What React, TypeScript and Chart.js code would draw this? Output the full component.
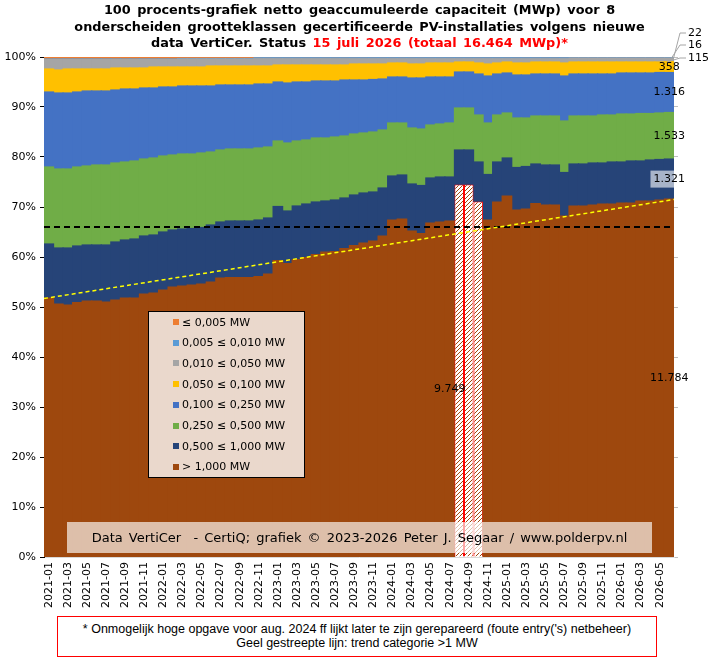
import { useEffect, useRef } from "react";
import { Chart, registerables } from "chart.js";

Chart.register(...registerables);

// maanden (categorieën)
const months = [
    "2021-01", "2021-02", "2021-03", "2021-04", "2021-05", "2021-06", "2021-07", "2021-08", "2021-09", "2021-10", "2021-11", "2021-12",
    "2022-01", "2022-02", "2022-03", "2022-04", "2022-05", "2022-06", "2022-07", "2022-08", "2022-09", "2022-10", "2022-11", "2022-12",
    "2023-01", "2023-02", "2023-03", "2023-04", "2023-05", "2023-06", "2023-07", "2023-08", "2023-09", "2023-10", "2023-11", "2023-12",
    "2024-01", "2024-02", "2024-03", "2024-04", "2024-05", "2024-06", "2024-07", "2024-08", "2024-09", "2024-10", "2024-11", "2024-12",
    "2025-01", "2025-02", "2025-03", "2025-04", "2025-05", "2025-06", "2025-07", "2025-08", "2025-09", "2025-10", "2025-11", "2025-12",
    "2026-01", "2026-02", "2026-03", "2026-04", "2026-05", "2026-06",
];

// aandeel (%) per grootteklasse, van onder naar boven
const over1MW = [
    51.8, 50.6, 50.4, 50.9, 51.2, 51.2, 51.0, 51.4, 51.8, 51.8,
    52.6, 52.8, 53.4, 54.0, 54.2, 54.4, 54.6, 55.0, 55.8, 55.9,
    55.9, 55.9, 56.1, 56.6, 59.3, 58.7, 59.5, 59.9, 60.5, 61.0,
    61.1, 61.7, 62.3, 62.8, 63.2, 64.2, 67.4, 67.6, 65.2, 64.7,
    66.8, 67.0, 67.2, 74.5, 74.5, 71.1, 67.4, 71.0, 72.2, 69.4,
    69.6, 70.7, 70.4, 70.4, 68.2, 70.2, 70.2, 70.4, 70.6, 70.6,
    70.8, 70.8, 71.2, 71.2, 71.4, 71.57,
];
const mw0500to1000 = [
    10.8, 11.2, 11.4, 11.3, 11.2, 11.2, 11.4, 11.6, 11.6, 11.8,
    11.6, 11.6, 11.6, 11.4, 11.4, 11.3, 11.3, 11.4, 11.2, 11.3,
    11.3, 11.3, 11.3, 11.2, 10.8, 10.5, 10.7, 10.7, 10.5, 10.2,
    10.3, 10.1, 10.1, 10.0, 9.8, 9.6, 8.8, 8.8, 9.4, 9.6,
    9.0, 9.0, 8.8, 6.9, 6.9, 7.9, 9.1, 8.0, 7.6, 8.5,
    8.5, 7.9, 8.0, 8.0, 8.7, 8.4, 8.4, 8.4, 8.2, 8.4,
    8.2, 8.4, 8.0, 8.2, 8.1, 8.02,
];
const mw0250to0500 = [
    15.4, 15.8, 15.8, 15.8, 15.8, 16.0, 16.0, 15.8, 15.6, 15.6,
    15.4, 15.4, 15.2, 15.0, 15.0, 14.9, 14.9, 14.6, 14.4, 14.4,
    14.4, 14.4, 14.4, 14.2, 13.1, 13.6, 13.0, 12.8, 12.8, 12.6,
    12.6, 12.4, 12.2, 12.0, 12.0, 11.6, 10.6, 10.4, 11.2, 11.3,
    10.6, 10.6, 10.8, 8.4, 8.4, 9.4, 10.3, 9.4, 9.0, 9.9,
    9.7, 9.6, 9.8, 9.8, 10.3, 9.6, 9.6, 9.4, 9.6, 9.4,
    9.6, 9.4, 9.5, 9.3, 9.3, 9.31,
];
const mw0100to0250 = [
    15.0, 15.2, 15.2, 15.0, 15.0, 14.8, 14.8, 14.6, 14.6, 14.4,
    14.2, 14.0, 13.8, 13.6, 13.6, 13.6, 13.4, 13.2, 13.0, 12.8,
    12.8, 12.8, 12.8, 12.6, 11.8, 12.0, 11.8, 11.6, 11.4, 11.4,
    11.2, 11.2, 10.8, 10.6, 10.5, 10.2, 9.2, 9.2, 10.0, 10.2,
    9.6, 9.4, 9.2, 7.2, 7.2, 8.2, 9.4, 8.2, 8.0, 8.6,
    8.6, 8.4, 8.4, 8.4, 9.0, 8.4, 8.4, 8.4, 8.2, 8.2,
    8.2, 8.2, 8.1, 8.1, 8.1, 7.99,
];
const mw0050to0100 = [
    4.6, 4.6, 4.8, 4.6, 4.4, 4.4, 4.4, 4.4, 4.2, 4.2,
    4.0, 4.2, 4.0, 4.0, 3.8, 3.8, 3.8, 4.0, 3.8, 3.8,
    3.8, 3.8, 3.6, 3.6, 3.4, 3.6, 3.4, 3.4, 3.2, 3.2,
    3.2, 3.0, 3.2, 3.2, 3.1, 3.0, 2.8, 2.8, 2.8, 2.8,
    2.8, 2.8, 2.8, 2.0, 2.0, 2.2, 2.4, 2.2, 2.2, 2.4,
    2.4, 2.4, 2.4, 2.4, 2.6, 2.4, 2.4, 2.4, 2.4, 2.4,
    2.2, 2.2, 2.2, 2.2, 2.1, 2.17,
];
const mw0010to0050 = [
    1.9, 2.1, 1.9, 1.9, 1.9, 1.9, 1.9, 1.7, 1.7, 1.7,
    1.7, 1.5, 1.5, 1.5, 1.6, 1.6, 1.6, 1.4, 1.4, 1.4,
    1.4, 1.4, 1.45, 1.45, 1.25, 1.25, 1.25, 1.25, 1.25, 1.25,
    1.25, 1.25, 1.05, 1.05, 1.05, 1.05, 0.85, 0.85, 1.05, 1.05,
    0.85, 0.85, 0.85, 0.65, 0.65, 0.85, 1.05, 0.85, 0.65, 0.85,
    0.85, 0.65, 0.65, 0.65, 0.85, 0.75, 0.75, 0.75, 0.75, 0.75,
    0.75, 0.75, 0.75, 0.75, 0.75, 0.70,
];
const mw0005to0010 = [
    0.1, 0.1, 0.1, 0.1, 0.1, 0.1, 0.1, 0.1, 0.1, 0.1,
    0.1, 0.1, 0.1, 0.1, 0.1, 0.1, 0.1, 0.1, 0.1, 0.1,
    0.1, 0.1, 0.2, 0.2, 0.2, 0.2, 0.2, 0.2, 0.2, 0.2,
    0.2, 0.2, 0.2, 0.2, 0.2, 0.2, 0.2, 0.2, 0.2, 0.2,
    0.2, 0.2, 0.2, 0.2, 0.2, 0.2, 0.2, 0.2, 0.2, 0.2,
    0.2, 0.2, 0.2, 0.2, 0.2, 0.1, 0.1, 0.1, 0.1, 0.1,
    0.1, 0.1, 0.1, 0.1, 0.1, 0.10,
];
const upTo0005 = [
    0.4, 0.4, 0.4, 0.4, 0.4, 0.4, 0.4, 0.4, 0.4, 0.4,
    0.4, 0.4, 0.4, 0.4, 0.3, 0.3, 0.3, 0.3, 0.3, 0.3,
    0.3, 0.3, 0.15, 0.15, 0.15, 0.15, 0.15, 0.15, 0.15, 0.15,
    0.15, 0.15, 0.15, 0.15, 0.15, 0.15, 0.15, 0.15, 0.15, 0.15,
    0.15, 0.15, 0.15, 0.15, 0.15, 0.15, 0.15, 0.15, 0.15, 0.15,
    0.15, 0.15, 0.15, 0.15, 0.15, 0.15, 0.15, 0.15, 0.15, 0.15,
    0.15, 0.15, 0.15, 0.15, 0.15, 0.13,
];

const seriesData = [over1MW, mw0500to1000, mw0250to0500, mw0100to0250, mw0050to0100, mw0010to0050, mw0005to0010, upTo0005];
const seriesNames = ["> 1,000 MW", "0,500 ≤ 1,000 MW", "0,250 ≤ 0,500 MW", "0,100 ≤ 0,250 MW", "0,050 ≤ 0,100 MW", "0,010 ≤ 0,050 MW", "0,005 ≤ 0,010 MW", "≤ 0,005 MW"];
const seriesColors = ["#9E480E", "#264478", "#70AD47", "#4472C4", "#FFC000", "#A5A5A5", "#5B9BD5", "#ED7D31"];

// MWp laatste maand (zelfde volgorde)
const lastValues = ["11.784", "1.321", "1.533", "1.316", "358", "115", "16", "22"];
const markedMonth = "2024-07";
const markedValue = "9.749";
const suspectMonths = ["2024-08", "2024-09", "2024-10"];
const referenceLevel = 66;
const trendLine = [51.7, 71.5];

const FONT = '"DejaVu Sans", Verdana, sans-serif';

function makeHatch(): CanvasPattern | string {
    const c = document.createElement("canvas");
    c.width = 4;
    c.height = 4;
    const g = c.getContext("2d");
    if (!g) return "#ffffff";
    g.fillStyle = "#ffffff";
    g.fillRect(0, 0, 4, 4);
    g.strokeStyle = "#9E480E";
    g.lineWidth = 1;
    g.beginPath();
    g.moveTo(0, 4); g.lineTo(4, 0);
    g.moveTo(-1, 1); g.lineTo(1, -1);
    g.moveTo(3, 5); g.lineTo(5, 3);
    g.stroke();
    return g.createPattern(c, "repeat") ?? "#ffffff";
}

const overlayPlugin = {
    id: "overlay",
    afterDatasetsDraw(chart: any) {
        const { ctx, chartArea: area, scales } = chart;
        const y = scales.y;
        ctx.save();

        // zwarte stippellijn
        const ry = y.getPixelForValue(referenceLevel);
        ctx.beginPath();
        ctx.setLineDash([6, 4]);
        ctx.lineWidth = 2;
        ctx.strokeStyle = "#000000";
        ctx.moveTo(area.left, ry);
        ctx.lineTo(area.right, ry);
        ctx.stroke();

        // gele trendlijn > 1 MW
        ctx.beginPath();
        ctx.setLineDash([4, 3]);
        ctx.lineWidth = 1.5;
        ctx.strokeStyle = "#FFFF00";
        ctx.moveTo(area.left, y.getPixelForValue(trendLine[0]));
        ctx.lineTo(area.right, y.getPixelForValue(trendLine[1]));
        ctx.stroke();
        ctx.setLineDash([]);

        ctx.font = `11px ${FONT}`;
        ctx.textAlign = "center";
        ctx.textBaseline = "middle";
        const last = months.length - 1;

        for (let d = 0; d < 5; d++) {
            const el = chart.getDatasetMeta(d).data[last];
            const cy = (el.y + el.base) / 2;
            if (d === 1) {
                const w = ctx.measureText(lastValues[d]).width;
                ctx.save();
                ctx.beginPath();
                ctx.rect(area.left, area.top, area.right - area.left, area.bottom - area.top);
                ctx.clip();
                ctx.fillStyle = "rgba(255,255,255,0.6)";
                ctx.fillRect(el.x - w / 2 - 3, cy - 8.5, w + 6, 17);
                ctx.restore();
            }
            ctx.fillStyle = "#000000";
            ctx.fillText(lastValues[d], el.x, cy);
        }

        // label juli 2024
        const mi = months.indexOf(markedMonth);
        const mel = chart.getDatasetMeta(0).data[mi];
        ctx.fillText(markedValue, mel.x, (mel.y + mel.base) / 2);

        // kleine klassen buiten de grafiek
        const outY = [area.top + 1, area.top - 12, area.top - 24];
        ctx.textAlign = "left";
        for (let k = 0; k < 3; k++) {
            const el = chart.getDatasetMeta(5 + k).data[last];
            const cy = (el.y + el.base) / 2;
            ctx.beginPath();
            ctx.strokeStyle = "#A6A6A6";
            ctx.lineWidth = 1;
            ctx.moveTo(el.x - 2 + k * 3, cy + 2);
            ctx.lineTo(area.right + 6, outY[k]);
            ctx.lineTo(area.right + 12, outY[k]);
            ctx.stroke();
            ctx.fillStyle = "#000000";
            ctx.fillText(lastValues[5 + k], area.right + 14, outY[k]);
        }
        ctx.restore();
    },
};

export default function App() {
    const canvasRef = useRef<HTMLCanvasElement>(null);

    useEffect(() => {
        document.body.style.margin = "0";
        if (!canvasRef.current) return;
        const hatch = makeHatch();
        const suspect = (i: number) => suspectMonths.includes(months[i]);

        const datasets = seriesData.map((values, s) => ({
            label: seriesNames[s],
            data: values,
            backgroundColor: s === 0
                ? (c: any) => (suspect(c.dataIndex) ? hatch : seriesColors[0])
                : seriesColors[s],
            borderColor: "#FF0000",
            borderWidth: s === 0 ? (c: any) => (suspect(c.dataIndex) ? 1 : 0) : 0,
            inflateAmount: s === 0 ? (c: any) => (suspect(c.dataIndex) ? 0 : 0.6) : 0.6,
            barPercentage: 1,
            categoryPercentage: 1,
        }));

        const chart = new Chart(canvasRef.current, {
            type: "bar",
            data: { labels: months, datasets },
            options: {
                animation: false,
                responsive: false,
                events: [],
                layout: { padding: { top: 57, right: 33, left: 0, bottom: 0 } },
                plugins: {
                    legend: { display: false },
                    tooltip: { enabled: false },
                },
                scales: {
                    x: {
                        stacked: true,
                        grid: { display: false, drawTicks: false },
                        border: { color: "#D9D9D9" },
                        ticks: {
                            autoSkip: false,
                            minRotation: 90,
                            maxRotation: 90,
                            padding: 5,
                            color: "#000000",
                            font: { family: FONT, size: 11 },
                            callback: (_v: any, i: number) => (i % 2 === 0 ? months[i] : ""),
                        },
                        afterFit: (s: any) => { s.height = 104; },
                    },
                    y: {
                        stacked: true,
                        min: 0,
                        max: 100,
                        grid: { drawOnChartArea: false, drawTicks: true, tickLength: 4, color: "#000000" },
                        border: { color: "#000000" },
                        ticks: {
                            stepSize: 10,
                            padding: 4,
                            color: "#000000",
                            font: { family: FONT, size: 11 },
                            callback: (v: any) => `${v}%`,
                        },
                        afterFit: (s: any) => { s.width = 44; },
                    },
                    y2: {
                        position: "right",
                        min: 0,
                        max: 100,
                        grid: { drawOnChartArea: false, tickLength: 4, color: "#BFBFBF" },
                        border: { display: false },
                        ticks: { display: false, stepSize: 10 },
                        afterFit: (s: any) => { s.width = 4; },
                    },
                },
            },
            plugins: [overlayPlugin],
        } as any);

        return () => {
            chart.destroy();
        };
    }, []);

    const legendItems = seriesNames.map((n, i) => ({ n, c: seriesColors[i] })).reverse();

    return (
        <div style={{ position: "relative", width: 711, height: 661, fontFamily: FONT }}>
            <canvas ref={canvasRef} width={711} height={661} style={{ position: "absolute", left: 0, top: 0 }} />
            <div style={{
                position: "absolute", left: 4, top: 2, width: 711, textAlign: "center",
                fontWeight: "bold", fontSize: 12.85, lineHeight: "16.7px", wordSpacing: 2, color: "#000",
            }}>
                100 procents-grafiek netto geaccumuleerde capaciteit (MWp) voor 8<br />
                onderscheiden grootteklassen gecertificeerde PV-installaties volgens nieuwe<br />
                data VertiCer. Status <span style={{ color: "#FF0000" }}>15 juli 2026 (totaal 16.464 MWp)*</span>
            </div>
            <div style={{
                position: "absolute", left: 148, top: 311, width: 157, height: 167, boxSizing: "border-box",
                border: "1px solid #000", background: "rgba(255,255,255,0.79)",
            }}>
                {legendItems.map((it, k) => (
                    <div key={it.n} style={{
                        position: "absolute", left: 24, top: 2 + k * 20.7, height: 16, display: "flex",
                        alignItems: "center", fontSize: 11, color: "#000", whiteSpace: "nowrap",
                    }}>
                        <span style={{ display: "inline-block", width: 6, height: 6, background: it.c, marginRight: 3 }} />
                        {it.n}
                    </div>
                ))}
            </div>
            <div style={{
                position: "absolute", left: 67, top: 522, width: 585, height: 31, lineHeight: "31px",
                background: "rgba(255,255,255,0.65)", textAlign: "center", fontSize: 13, color: "#000",
                whiteSpace: "pre", wordSpacing: 2,
            }}>
                {"Data VertiCer  - CertiQ; grafiek © 2023-2026 Peter J. Segaar / www.polderpv.nl"}
            </div>
            <div style={{
                position: "absolute", left: 57, top: 616, width: 600, height: 41, boxSizing: "border-box",
                border: "1px solid #FF0000", background: "#fff", textAlign: "center", paddingTop: 5,
                fontFamily: '"Liberation Sans", Arial, sans-serif', fontSize: 12.5, lineHeight: "14px", color: "#000",
            }}>
                * Onmogelijk hoge opgave voor aug. 2024 ff lijkt later te zijn gerepareerd (foute entry('s) netbeheer)<br />
                Geel gestreepte lijn: trend categorie &gt;1 MW
            </div>
        </div>
    );
}
